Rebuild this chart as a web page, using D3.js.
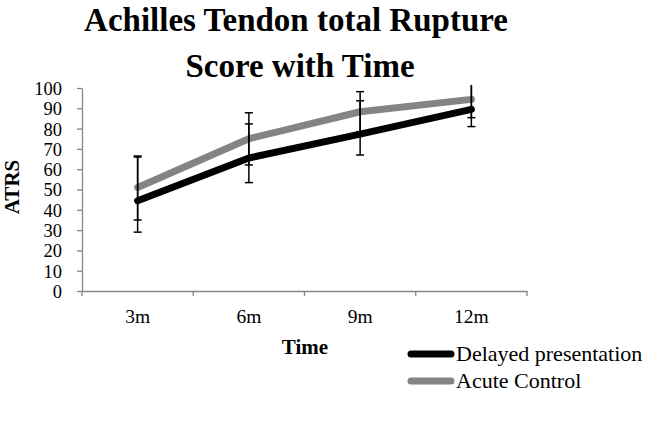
<!DOCTYPE html>
<html>
<head>
<meta charset="utf-8">
<script src="https://cdn.jsdelivr.net/npm/d3@7"></script>
<style>
  body { margin: 0; background: #fff; }
  svg text { font-family: "Liberation Serif", "DejaVu Serif", serif; fill: #000; }
</style>
</head>
<body>
<div id="chart"></div>
<script>
// data
var categories = ["3m", "6m", "9m", "12m"];
var yTicks = [0, 10, 20, 30, 40, 50, 60, 70, 80, 90, 100];

var delayedValues = [44.5, 65.5, 77.3, 89.5];
var delayedLow = [29, 53.4, 67, 81];
var delayedHigh = [66, 82.3, 93.7, 108];

var acuteValues = [51, 75, 88.3, 94.4];
var acuteLow = [35, 62.1, 78.5, 85.4];
var acuteHigh = [66.5, 87.8, 98.2, 104];

var series = [
    { name: "Delayed presentation", values: delayedValues, low: delayedLow, high: delayedHigh, color: "#000000" },
    { name: "Acute Control", values: acuteValues, low: acuteLow, high: acuteHigh, color: "#848484" }
];

var WIDTH = 646, HEIGHT = 441;
var plot = { left: 82, right: 527, top: 88, bottom: 291 };

var svg = d3.select("#chart").append("svg")
    .attr("width", WIDTH)
    .attr("height", HEIGHT);

var x = d3.scaleBand().domain(categories).range([plot.left, plot.right]);
var y = d3.scaleLinear().domain([0, 100]).range([plot.bottom, plot.top]);

// title
svg.append("text")
    .attr("x", 296).attr("y", 31)
    .attr("text-anchor", "middle")
    .style("font-size", "33px").style("font-weight", "bold")
    .text("Achilles Tendon total Rupture");
svg.append("text")
    .attr("x", 300).attr("y", 77)
    .attr("text-anchor", "middle")
    .style("font-size", "33px").style("font-weight", "bold")
    .text("Score with Time");

// y axis
var yAxis = svg.append("g")
    .attr("transform", "translate(" + plot.left + ",0)")
    .call(d3.axisLeft(y).tickValues(yTicks).tickSize(5).tickPadding(15).tickSizeOuter(0));
yAxis.select(".domain").attr("stroke", "#868686").attr("stroke-width", 1.3);
yAxis.selectAll(".tick line").attr("stroke", "#868686").attr("stroke-width", 1.3);
yAxis.selectAll(".tick text")
    .style("font-size", "18.5px").attr("font-family", null).attr("dy", "0.35em");

// x axis
var xAxis = svg.append("g")
    .attr("transform", "translate(0," + plot.bottom + ")")
    .call(d3.axisBottom(x).tickSize(0).tickPadding(0));
xAxis.select(".domain").attr("stroke", "#868686").attr("stroke-width", 1.3);
xAxis.selectAll(".tick text")
    .attr("y", 32).attr("dy", null)
    .style("font-size", "19.5px").attr("font-family", null);
// category boundary ticks
var bounds = categories.map(function (c) { return x(c); }).concat([plot.right]);
xAxis.selectAll(".bound")
    .data(bounds).enter()
    .append("line")
    .attr("x1", function (d) { return d; })
    .attr("x2", function (d) { return d; })
    .attr("y1", 0).attr("y2", 5)
    .attr("stroke", "#868686").attr("stroke-width", 1.3);

// axis titles
svg.append("text")
    .attr("x", 305).attr("y", 354)
    .attr("text-anchor", "middle")
    .style("font-size", "21px").style("font-weight", "bold")
    .text("Time");
svg.append("text")
    .attr("transform", "translate(19," + 187 + ")rotate(-90)")
    .attr("text-anchor", "middle")
    .style("font-size", "21px").style("font-weight", "bold")
    .text("ATRS");

// lines
var line = d3.line()
    .x(function (d, i) { return x(categories[i]) + x.bandwidth() / 2; })
    .y(function (d) { return y(d); });

svg.append("defs").append("clipPath").attr("id", "clip")
    .append("rect")
    .attr("x", plot.left).attr("y", plot.top - 3)
    .attr("width", plot.right - plot.left).attr("height", plot.bottom - plot.top + 3);

var g = svg.append("g").attr("clip-path", "url(#clip)");

series.slice().reverse().forEach(function (s) {
    g.append("path")
        .datum(s.values)
        .attr("d", line)
        .attr("fill", "none")
        .attr("stroke", s.color)
        .attr("stroke-width", 7)
        .attr("stroke-linecap", "round")
        .attr("stroke-linejoin", "round");
});

// error bars
series.forEach(function (s) {
    categories.forEach(function (c, i) {
        var cx = x(c) + x.bandwidth() / 2;
        g.append("line")
            .attr("x1", cx).attr("x2", cx)
            .attr("y1", y(s.low[i])).attr("y2", y(s.high[i]))
            .attr("stroke", "#000").attr("stroke-width", 1.5);
        [s.low[i], s.high[i]].forEach(function (v) {
            g.append("line")
                .attr("x1", cx - 4).attr("x2", cx + 4)
                .attr("y1", y(v)).attr("y2", y(v))
                .attr("stroke", "#000").attr("stroke-width", 1.5);
        });
    });
});

// legend
var legend = svg.append("g");
series.forEach(function (s, i) {
    var ly = 354 + i * 27;
    legend.append("line")
        .attr("x1", 411).attr("x2", 451)
        .attr("y1", ly).attr("y2", ly)
        .attr("stroke", s.color).attr("stroke-width", 7)
        .attr("stroke-linecap", "round");
    legend.append("text")
        .attr("x", 456).attr("y", ly + 7)
        .style("font-size", "22px")
        .text(s.name);
});
</script>
</body>
</html>
